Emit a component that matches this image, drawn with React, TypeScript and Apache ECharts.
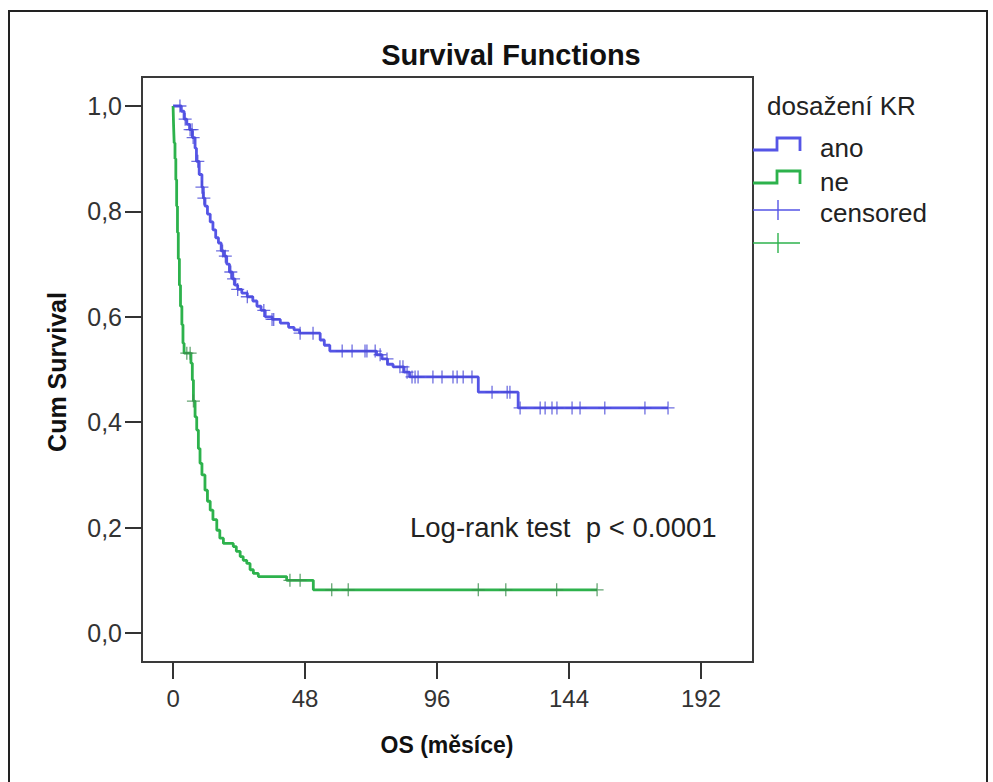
import React, { useEffect, useRef } from "react";
import * as echarts from "echarts";

// ---- data ----
const blueTimes = [0, 3, 4, 5, 6, 7, 8, 8.5, 9.5, 10.5, 11, 11.6, 12.5, 13.5, 14.5, 15.5, 16.5, 17.5, 18.5, 19.5, 20.5, 21.5, 22.5, 23.5, 25, 27, 29, 30.5, 32, 33.5, 36, 39, 42, 44, 46, 53.5, 55, 57, 74, 76, 78, 80, 84, 86, 111, 125.5, 180];
const blueSurv = [1, 0.99, 0.975, 0.965, 0.955, 0.94, 0.92, 0.895, 0.87, 0.846, 0.825, 0.81, 0.795, 0.78, 0.765, 0.75, 0.74, 0.725, 0.715, 0.70, 0.685, 0.672, 0.66, 0.652, 0.645, 0.638, 0.63, 0.62, 0.612, 0.60, 0.595, 0.588, 0.58, 0.575, 0.569, 0.556, 0.546, 0.535, 0.528, 0.52, 0.51, 0.505, 0.495, 0.486, 0.457, 0.427, 0.427];
const blueCensored = [2.5, 4.4, 6.2, 6.9, 7.3, 9, 10.5, 11.2, 18, 19, 21, 22, 23.5, 27, 33, 36, 36.6, 46.2, 50.9, 61.5, 65.1, 69.8, 70.5, 73.5, 75.3, 77.8, 82.5, 83.6, 85.1, 86.9, 88, 89.1, 94.5, 97.8, 101.8, 103.3, 105.5, 108.7, 116, 121.5, 122.5, 126.2, 133.5, 135.3, 137.8, 139.6, 145.1, 148, 157, 171.6, 180];

const greenTimes = [0, 0.2, 0.4, 0.7, 1.0, 1.3, 1.6, 1.9, 2.3, 2.7, 3.2, 3.6, 4, 6.5, 7, 7.4, 8, 8.6, 9.2, 9.8, 10.5, 11.6, 12.5, 13.5, 14.5, 15.9, 17, 18.3, 21.9, 23, 24.4, 25.5, 26.8, 28, 29.2, 31, 41.3, 51, 154.2];
const greenSurv = [1, 0.96, 0.93, 0.90, 0.86, 0.81, 0.76, 0.71, 0.66, 0.62, 0.585, 0.55, 0.531, 0.512, 0.48, 0.44, 0.41, 0.385, 0.35, 0.322, 0.30, 0.271, 0.25, 0.233, 0.215, 0.195, 0.18, 0.17, 0.164, 0.155, 0.145, 0.138, 0.132, 0.12, 0.113, 0.107, 0.10, 0.082, 0.082];
const greenCensored = [5, 6.2, 7.4, 42.5, 46.2, 57.7, 63.7, 111, 121, 139.5, 154.2];

const xTicks = [0, 48, 96, 144, 192];
const yTicks = [0, 0.2, 0.4, 0.6, 0.8, 1];

const seriesNames = ["ano", "ne"];
const legendTitle = "dosažení KR";
const censoredLabel = "censored";
const titleText = "Survival Functions";
const xName = "OS (měsíce)";
const yName = "Cum Survival";
const noteText = "Log-rank test  p < 0.0001";

const BLUE = "#5555e6";
const GREEN = "#2db24c";
const FONT = "'Liberation Sans', Arial, sans-serif";
const PLUS = "path://M9,0h2v9h9v2h-9v9h-2v-9h-9v-2h9z";

function survAt(times: number[], surv: number[], t: number) {
  let s = surv[0];
  for (let i = 0; i < times.length; i++) if (times[i] <= t) s = surv[i];
  return s;
}

export default function App() {
  const ref = useRef<HTMLDivElement>(null);
  useEffect(() => {
    if (!ref.current) return;
    const chart = echarts.init(ref.current, undefined, { renderer: "svg" });
    const blueLine = blueTimes.map((t, i) => [t, blueSurv[i]]);
    const greenLine = greenTimes.map((t, i) => [t, greenSurv[i]]);
    const blueCens = blueCensored.map((t) => [t, survAt(blueTimes, blueSurv, t)]);
    const greenCens = greenCensored.map((t) => [t, survAt(greenTimes, greenSurv, t)]);

    const lx = 753;
    const stepIcon = (y: number, color: string) => ({
      type: "polyline",
      shape: { points: [[lx, y], [lx + 24, y], [lx + 24, y - 12], [lx + 47, y - 12], [lx + 47, y + 1]] },
      style: { stroke: color, lineWidth: 2.8, fill: null },
    });
    const crossIcon = (y: number, color: string) => ({
      type: "group",
      children: [
        { type: "line", shape: { x1: lx, y1: y, x2: lx + 47, y2: y }, style: { stroke: color, lineWidth: 1.4 } },
        { type: "line", shape: { x1: lx + 25, y1: y - 10, x2: lx + 25, y2: y + 10 }, style: { stroke: color, lineWidth: 1.4 } },
      ],
    });
    const legText = (y: number, text: string, x = 820) => ({
      type: "text",
      x,
      y,
      style: { text, fill: "#222", font: `26px ${FONT}`, textVerticalAlign: "middle", textAlign: "left" },
    });

    chart.setOption({
      animation: false,
      grid: {
        left: 142,
        top: 77,
        width: 611,
        height: 585,
        show: true,
        borderColor: "#3a3a3a",
        borderWidth: 2,
        backgroundColor: "#fff",
      },
      xAxis: {
        type: "value",
        min: -11.3,
        max: 210.9,
        axisLine: { show: false, onZero: false },
        splitLine: { show: false },
        axisTick: { show: true, length: 17, customValues: xTicks, lineStyle: { color: "#333", width: 2 } },
        axisLabel: { customValues: xTicks, color: "#333", fontSize: 24, fontFamily: FONT, margin: 24 },
      },
      yAxis: {
        type: "value",
        min: -0.055,
        max: 1.055,
        axisLine: { show: false, onZero: false },
        splitLine: { show: false },
        axisTick: { show: true, length: 17, customValues: yTicks, lineStyle: { color: "#333", width: 2 } },
        axisLabel: {
          customValues: yTicks,
          color: "#333",
          fontSize: 25,
          fontFamily: FONT,
          margin: 20,
          formatter: (v: number) => v.toFixed(1).replace(".", ","),
        },
      },
      series: [
        { type: "line", name: seriesNames[0], step: "end", data: blueLine, showSymbol: false, lineStyle: { color: BLUE, width: 2.8 }, z: 3 },
        { type: "line", name: seriesNames[1], step: "end", data: greenLine, showSymbol: false, lineStyle: { color: GREEN, width: 2.8 }, z: 3 },
        { type: "scatter", name: censoredLabel, data: blueCens, symbol: PLUS, symbolSize: 13, itemStyle: { color: "#4a4ad8" }, z: 4 },
        { type: "scatter", name: censoredLabel + " ne", data: greenCens, symbol: PLUS, symbolSize: 13, itemStyle: { color: "#3d8f4f" }, z: 4 },
      ],
      graphic: [
        { type: "rect", shape: { x: 9, y: 11, width: 978, height: 790 }, style: { stroke: "#222", lineWidth: 2, fill: null }, z: -1 },
        { type: "text", x: 511, y: 55, style: { text: titleText, fill: "#111", font: `bold 29px ${FONT}`, textAlign: "center", textVerticalAlign: "middle" } },
        { type: "text", x: 447, y: 745, style: { text: xName, fill: "#111", font: `bold 23px ${FONT}`, textAlign: "center", textVerticalAlign: "middle" } },
        { type: "text", x: 57, y: 372, rotation: Math.PI / 2, style: { text: yName, fill: "#111", font: `bold 25px ${FONT}`, textAlign: "center", textVerticalAlign: "middle" } },
        { type: "text", x: 410, y: 527, style: { text: noteText, fill: "#222", font: `27.5px ${FONT}`, textAlign: "left", textVerticalAlign: "middle" } },
        legText(106, legendTitle, 767),
        stepIcon(150, BLUE),
        stepIcon(183, GREEN),
        crossIcon(210, BLUE),
        crossIcon(243, GREEN),
        legText(148, seriesNames[0]),
        legText(182, seriesNames[1]),
        legText(213, censoredLabel),
      ],
    });
    return () => chart.dispose();
  }, []);
  return <div ref={ref} style={{ position: "fixed", left: 0, top: 0, width: 993, height: 782, background: "#fff" }} />;
}
